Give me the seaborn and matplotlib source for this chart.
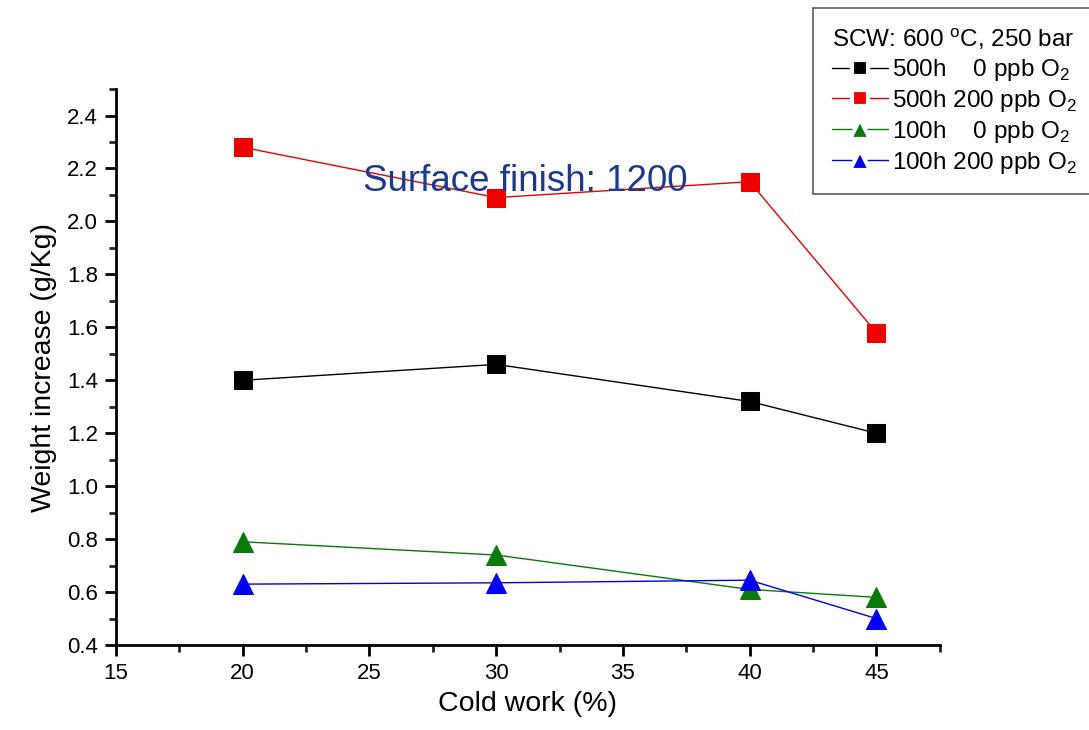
import pandas as pd
import seaborn as sns
import matplotlib.pyplot as plt
from matplotlib.lines import Line2D

# Data
cold_work = [20, 30, 40, 45]
w_500h_0ppb = [1.40, 1.46, 1.32, 1.20]
w_500h_200ppb = [2.28, 2.09, 2.15, 1.58]
w_100h_0ppb = [0.79, 0.74, 0.61, 0.58]
w_100h_200ppb = [0.63, 0.635, 0.645, 0.50]

labels = [
    "500h    0 ppb O$_2$",
    "500h 200 ppb O$_2$",
    "100h    0 ppb O$_2$",
    "100h 200 ppb O$_2$",
]
colors = ["black", "#ee0000", "#0a7a0a", "#0000ee"]
markers = ["s", "s", "^", "^"]
series = [w_500h_0ppb, w_500h_200ppb, w_100h_0ppb, w_100h_200ppb]

sns.set_style("white")
plt.rcParams["font.family"] = ["Liberation Sans", "DejaVu Sans"]
plt.rcParams["mathtext.fontset"] = "custom"
plt.rcParams["mathtext.rm"] = "Liberation Sans"
plt.rcParams["text.color"] = "black"
plt.rcParams["axes.labelcolor"] = "black"

fig = plt.figure(figsize=(10.89, 7.3), dpi=100)
ax = fig.add_axes([0.1065, 0.1164, 0.7565, 0.7616])

for vals, col, mk in zip(series, colors, markers):
    df = pd.DataFrame({"x": cold_work, "y": vals})
    sns.lineplot(data=df, x="x", y="y", ax=ax, color=col, marker=mk,
                 markeredgecolor=col, linewidth=1.0, legend=False)

for line, mk in zip(ax.lines, markers):
    line.set_markersize(13 if mk == "s" else 15)

ax.set_xlim(15, 47.5)
ax.set_ylim(0.4, 2.5)
ax.set_xticks([15, 20, 25, 30, 35, 40, 45])
ax.set_xticks([17.5, 22.5, 27.5, 32.5, 37.5, 42.5, 47.5], minor=True)
ax.set_yticks([0.4, 0.6, 0.8, 1.0, 1.2, 1.4, 1.6, 1.8, 2.0, 2.2, 2.4])
ax.set_yticks([0.5, 0.7, 0.9, 1.1, 1.3, 1.5, 1.7, 1.9, 2.1, 2.3, 2.5], minor=True)
ax.yaxis.set_major_formatter(plt.FormatStrFormatter("%.1f"))
ax.tick_params(axis="both", which="major", direction="out", length=8, width=2,
               labelsize=16, pad=5, left=True, bottom=True, colors="black")
ax.tick_params(axis="both", which="minor", direction="out", length=5, width=2,
               left=True, bottom=True)
for side in ["top", "right"]:
    ax.spines[side].set_visible(False)
for side in ["left", "bottom"]:
    ax.spines[side].set_linewidth(2)
    ax.spines[side].set_color("black")

ax.set_xlabel("Cold work (%)", fontsize=20.5, labelpad=5)
ax.set_ylabel("Weight increase (g/Kg)", fontsize=20.5, labelpad=7)

ax.text(0.333, 0.752, "Surface finish: 1200", transform=fig.transFigure,
        fontsize=26.5, color="#1b3a8c", ha="left", va="center")

# legend with separate proxy handles so plot markers keep their size;
# white marker edge leaves a small gap in the line around the marker
handles = [Line2D([], [], color=c, marker=m, markersize=11 if m == "s" else 14,
                  markerfacecolor=c, markeredgecolor="white", markeredgewidth=3,
                  linewidth=1.0)
           for c, m in zip(colors, markers)]
leg = fig.legend(handles, labels, loc="upper left", bbox_to_anchor=(0.747, 0.989),
                 title="SCW: 600 $^{\\rm o}$C, 250 bar", fontsize=17.5,
                 title_fontsize=17.5, frameon=True, fancybox=False,
                 edgecolor="#333333", handlelength=2.3, handletextpad=0.2,
                 labelspacing=0.2, borderpad=0.75, borderaxespad=0)
leg._legend_box.align = "left"
leg.get_frame().set_linewidth(1.2)

fig.savefig("out.png", dpi=100)
